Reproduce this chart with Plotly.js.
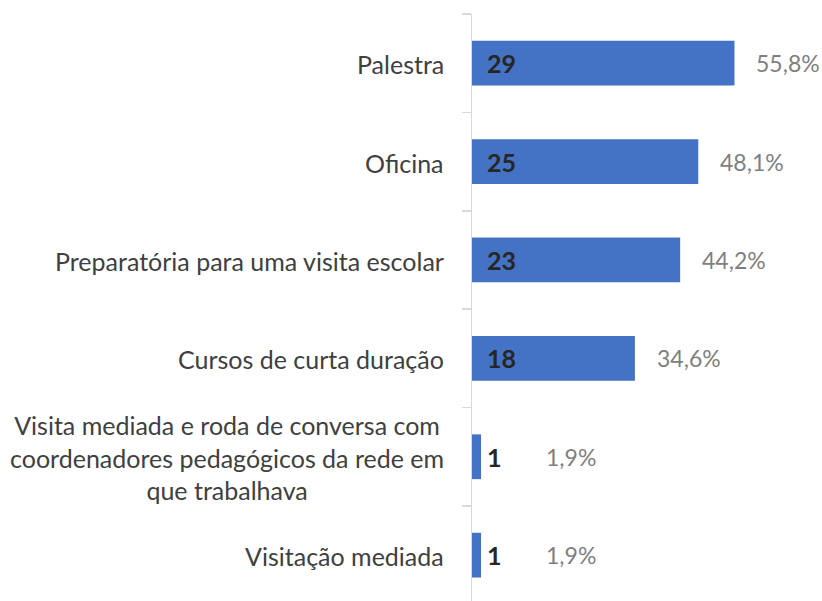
<!DOCTYPE html>
<html>
<head>
<meta charset="utf-8">
<script src="https://cdn.plot.ly/plotly-3.0.1.min.js"></script>
<style>html,body{margin:0;padding:0;background:#fff;}#chart{width:822px;height:601px;}</style>
</head>
<body>
<div id="chart"></div>
<script>
// Data (top to bottom)
const categories = [
  "Palestra",
  "Oficina",
  "Preparatória para uma visita escolar",
  "Cursos de curta duração",
  "Visita mediada e roda de conversa com<br>coordenadores pedagógicos da rede em<br>que trabalhava",
  "Visitação mediada"
];
const counts = [29, 25, 23, 18, 1, 1];
const percents = ["55,8%", "48,1%", "44,2%", "34,6%", "1,9%", "1,9%"];

const cats = categories.slice().reverse();
const vals = counts.slice().reverse();
const pcts = percents.slice().reverse();

const FONT = "Lato, 'Open Sans', sans-serif";

const trace = {
  type: "bar",
  orientation: "h",
  y: cats,
  x: vals,
  marker: {color: "#4472C4"},
  hoverinfo: "none"
};

const annotations = [];
cats.forEach((c, i) => {
  annotations.push({
    xref: "paper", yref: "y", x: 0, y: c, xanchor: "right", yanchor: "middle",
    xshift: -26, yshift: -1, text: c, showarrow: false, align: "center",
    font: {family: FONT, size: 25, color: "#404040"}
  });
  annotations.push({
    xref: "x", yref: "y", x: 0, y: c, xanchor: "left", yanchor: "middle",
    xshift: 13, text: "<b>" + vals[i] + "</b>", showarrow: false,
    font: {family: FONT, size: 25, color: "#262626"}
  });
  annotations.push({
    xref: "x", yref: "y", x: Math.max(vals[i], 5.7), y: c, xanchor: "left", yanchor: "middle",
    xshift: 20, text: pcts[i], showarrow: false,
    font: {family: FONT, size: 23, color: "#7f7f7f"}
  });
});

const layout = {
  width: 822, height: 601,
  margin: {l: 472, r: 0, t: 14, b: 0, pad: 0},
  paper_bgcolor: "#fff", plot_bgcolor: "#fff",
  showlegend: false,
  bargap: 0.545,
  xaxis: {range: [0, 38.67], showgrid: false, zeroline: false, showticklabels: false, showline: false, ticks: ""},
  yaxis: {
    type: "category", categoryorder: "array", categoryarray: cats,
    range: [-0.466, 5.5],
    showline: true, linecolor: "#d9d9d9", linewidth: 1.5,
    ticks: "outside", tickson: "boundaries", ticklen: 9, tickcolor: "#d9d9d9", tickwidth: 1.5,
    showticklabels: false, showgrid: false, zeroline: false
  },
  annotations: annotations
};

Plotly.newPlot("chart", [trace], layout, {staticPlot: true, displayModeBar: false});
</script>
</body>
</html>
